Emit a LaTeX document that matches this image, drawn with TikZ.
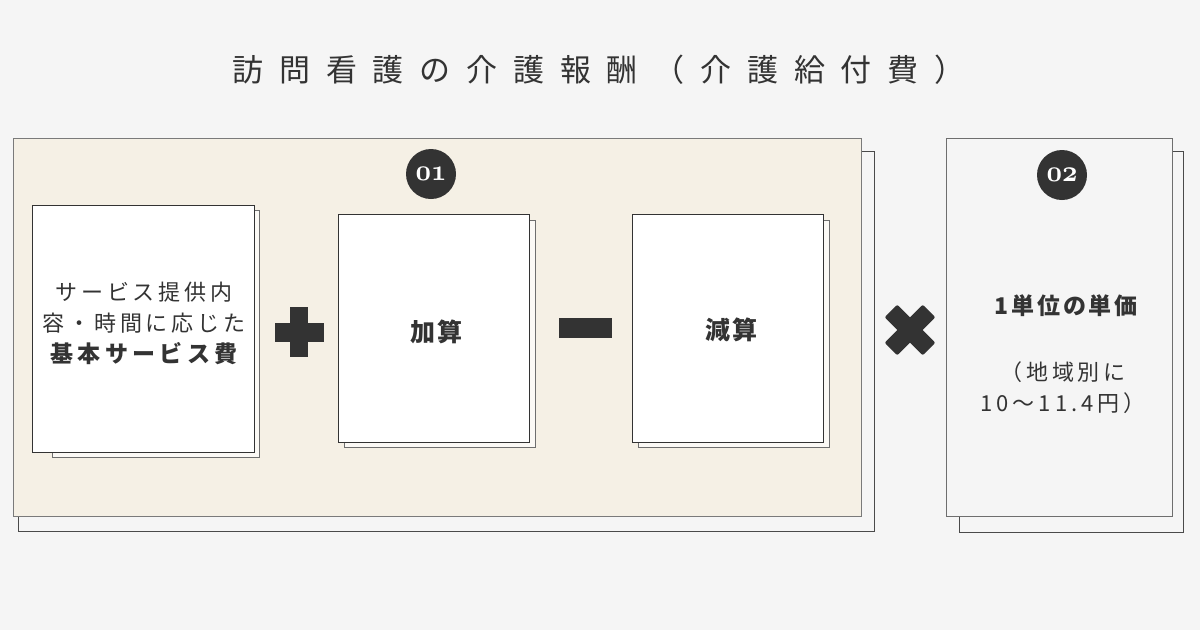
\documentclass[tikz,border=0pt]{standalone}
\usepackage{fontspec}
\newfontfamily\cjk{Noto Sans CJK JP}
\definecolor{bg}{HTML}{F5F5F5}
\definecolor{beige}{HTML}{F5F0E5}
\definecolor{ink}{HTML}{333333}
\definecolor{edge}{HTML}{7A7A7A}
\definecolor{shade}{HTML}{4A4A4A}
\newcommand{\badgenum}[1]{\scalebox{1.08}[1.2]{\usefont{OML}{cmm}{b}{it}\fontsize{24}{24}\selectfont #1}}
\tikzset{
  frontbox/.style={draw=edge, line width=1pt},
  backbox/.style={draw=shade, line width=1pt},
  cardback/.style={draw=shade!80, line width=1pt, fill=beige!40!white},
  card/.style={draw=ink, line width=1pt, fill=white},
  badge/.style={circle, fill=ink, minimum size=50pt, inner sep=0pt, text=white},
  label/.style={text=ink, align=center, inner sep=0pt},
  sign/.style={fill=ink, draw=none}
}
\begin{document}
\begin{tikzpicture}[x=1pt, y=-1pt]
\useasboundingbox (0,0) rectangle (1200,630);
\fill[bg] (0,0) rectangle (1200,630);

% title
\node[label, font=\cjk\fontsize{31}{31}\selectfont\addfontfeature{LetterSpace=51}] (title) at (599,70) {訪問看護の介護報酬（介護給付費）};

% container 01
\draw[backbox, fill=bg] (18,151) rectangle (874,531);
\draw[frontbox, fill=beige] (13,138) rectangle (861,516);
\node[badge] (b1) at (431,174) {\badgenum{01}};

% card 1
\draw[cardback] (52,210) rectangle (259,457);
\draw[card] (32,205) rectangle (254,452);
\node[label, font=\cjk\fontsize{22}{31}\selectfont] (base) at (144,323)
  {{\addfontfeature{LetterSpace=18}サービス提供内}\\
   {\addfontfeature{LetterSpace=17}容・時間に応じた}\\
   {\bfseries\fontsize{23}{28}\selectfont\addfontfeature{LetterSpace=19}基本サービス費}};

% plus
\fill[sign] (275,323) rectangle (324,342);
\fill[sign] (290,307) rectangle (308,357);
\coordinate (plus) at (299.5,332);

% card 2
\draw[cardback] (344,220) rectangle (535,447);
\draw[card] (338,214) rectangle (529,442);
\node[label, font=\cjk\bfseries\fontsize{25}{25}\selectfont\addfontfeature{LetterSpace=8}] (add) at (436,332) {加算};

% minus
\fill[sign] (559,318) rectangle (612,338);
\coordinate (minus) at (585.5,328);

% card 3
\draw[cardback] (638,220) rectangle (829,447);
\draw[card] (632,214) rectangle (823,442);
\node[label, font=\cjk\bfseries\fontsize{25}{25}\selectfont\addfontfeature{LetterSpace=8}] (sub) at (731,330) {減算};

% times
\begin{scope}[shift={(910,330)}, rotate=45]
  \fill[sign, rounded corners=2pt] (-27,-9) rectangle (27,9);
  \fill[sign, rounded corners=2pt] (-9,-27) rectangle (9,27);
\end{scope}
\coordinate (times) at (910,330);

% container 02
\draw[backbox, fill=bg] (959,151) rectangle (1183,532);
\draw[frontbox, draw=shade!80, fill=bg] (946,138) rectangle (1172,516);
\node[badge] (b2) at (1062,175) {\badgenum{02}};
\node[label, font=\cjk\bfseries\fontsize{23}{23}\selectfont\addfontfeature{LetterSpace=13}] (unit) at (1066,306) {1単位の単価};
\node[label, font=\cjk\fontsize{22}{31}\selectfont\addfontfeature{LetterSpace=18}] (range) at (1063,388)
  {（地域別に\\10～11.4円）};
\end{tikzpicture}
\end{document}
